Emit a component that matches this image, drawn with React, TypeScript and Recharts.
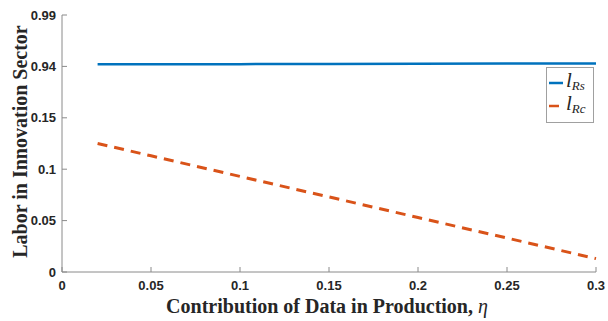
import { LineChart, Line, XAxis, YAxis } from "recharts";

// eta values and the two labour series
const ETA = [0.02, 0.05, 0.1, 0.15, 0.2, 0.25, 0.3];
const L_RS = [0.942, 0.942, 0.9422, 0.9424, 0.9425, 0.9427, 0.9428];
const L_RC = [0.125, 0.113, 0.093, 0.073, 0.053, 0.033, 0.013];

const X_TICKS = [0, 0.05, 0.1, 0.15, 0.2, 0.25, 0.3];
const X_TICK_LABELS = ["0", "0.05", "0.1", "0.15", "0.2", "0.25", "0.3"];
// broken y axis: labels are evenly spaced
const Y_TICKS = [0, 0.05, 0.1, 0.15, 0.94, 0.99];
const Y_TICK_LABELS = ["0", "0.05", "0.1", "0.15", "0.94", "0.99"];

const SERIES = [
  { key: "rs", sub: "Rs", color: "#0072BD", dash: undefined as string | undefined, width: 2.5 },
  { key: "rc", sub: "Rc", color: "#D95319", dash: "10 7", width: 3 },
];

const AXIS = "#8a8a8a";
const TICK_FONT = "'Liberation Sans', Arial, sans-serif";
const SERIF = "'Liberation Serif', 'Times New Roman', serif";

// map a value onto the evenly spaced tick positions
function toPos(v: number) {
  for (let i = 0; i < Y_TICKS.length - 1; i++) {
    if (v <= Y_TICKS[i + 1] || i === Y_TICKS.length - 2) {
      return i + (v - Y_TICKS[i]) / (Y_TICKS[i + 1] - Y_TICKS[i]);
    }
  }
  return 0;
}

const POS = Y_TICKS.map((_, i) => i);

const data = ETA.map((x, i) => ({ eta: x, rs: toPos(L_RS[i]), rc: toPos(L_RC[i]) }));

function LeftTick(props: any) {
  const { x, y, payload } = props;
  return (
    <g>
      <line x1={x + 6} x2={x + 11} y1={y} y2={y} stroke={AXIS} />
      <text x={x} y={y} dy="0.36em" textAnchor="end" fontSize={13} fontWeight="bold" fontFamily={TICK_FONT} fill="#262626">
        {Y_TICK_LABELS[payload.value]}
      </text>
    </g>
  );
}

function BottomTick(props: any) {
  const { x, y, payload } = props;
  const idx = X_TICKS.indexOf(payload.value);
  return (
    <g>
      <line x1={x} x2={x} y1={y - 9} y2={y - 14} stroke={AXIS} />
      <text x={x} y={y} dy="0.71em" textAnchor="middle" fontSize={13} fontWeight="bold" fontFamily={TICK_FONT} fill="#262626">
        {X_TICK_LABELS[idx]}
      </text>
    </g>
  );
}

function TopTick(props: any) {
  const { x, y } = props;
  return <line x1={x} x2={x} y1={y} y2={y + 5} stroke={AXIS} />;
}

function RightTick(props: any) {
  const { x, y } = props;
  return <line x1={x - 5} x2={x} y1={y} y2={y} stroke={AXIS} />;
}

function XLabel(props: any) {
  const { viewBox } = props;
  const cx = viewBox.x + viewBox.width / 2 - 2;
  return (
    <text x={cx} y={viewBox.y + 41} textAnchor="middle" fontSize={20} fontWeight="bold" fontFamily={SERIF} fill="#262626">
      Contribution of Data in Production, <tspan fontStyle="italic" fontWeight="normal">η</tspan>
    </text>
  );
}

function YLabel(props: any) {
  const { viewBox } = props;
  const cy = viewBox.y + viewBox.height / 2 - 2;
  return (
    <text x={27} y={cy} transform={`rotate(-90 27 ${cy})`} textAnchor="middle" fontSize={20} fontWeight="bold" fontFamily={SERIF} fill="#262626">
      Labor in Innovation Sector
    </text>
  );
}

export default function App() {
  return (
    <div style={{ position: "relative", width: 608, height: 321, background: "#fff" }}>
      <style>{"body{margin:0}"}</style>
      <LineChart width={608} height={321} data={data} margin={{ top: 15, right: 12, bottom: 0, left: 0 }}>
        <XAxis
          xAxisId="x"
          dataKey="eta"
          type="number"
          domain={[0, 0.3]}
          ticks={X_TICKS}
          height={49}
          tickSize={0}
          tickMargin={9}
          tickLine={false}
          axisLine={{ stroke: AXIS }}
          tick={<BottomTick />}
          label={<XLabel />}
        />
        <XAxis
          xAxisId="top"
          orientation="top"
          type="number"
          domain={[0, 0.3]}
          ticks={X_TICKS}
          height={0}
          tickSize={0}
          tickMargin={0}
          tickLine={false}
          axisLine={{ stroke: AXIS }}
          tick={<TopTick />}
        />
        <YAxis
          yAxisId="y"
          type="number"
          domain={[0, Y_TICKS.length - 1]}
          ticks={POS}
          width={62}
          tickSize={0}
          tickMargin={6}
          tickLine={false}
          axisLine={{ stroke: AXIS }}
          tick={<LeftTick />}
          label={<YLabel />}
        />
        <YAxis
          yAxisId="right"
          orientation="right"
          type="number"
          domain={[0, Y_TICKS.length - 1]}
          ticks={POS}
          width={0}
          tickSize={0}
          tickMargin={0}
          tickLine={false}
          axisLine={{ stroke: AXIS }}
          tick={<RightTick />}
        />
        {SERIES.map((s) => (
          <Line
            key={s.key}
            xAxisId="x"
            yAxisId="y"
            dataKey={s.key}
            type="linear"
            stroke={s.color}
            strokeWidth={s.width}
            strokeDasharray={s.dash}
            dot={false}
            isAnimationActive={false}
          />
        ))}
      </LineChart>
      <div
        style={{
          position: "absolute",
          left: 546,
          top: 67,
          width: 48,
          height: 56,
          border: "1px solid #a0a0a0",
          background: "#fff",
          boxSizing: "border-box",
          fontFamily: SERIF,
          fontStyle: "italic",
          color: "#262626",
        }}
      >
        {SERIES.map((s, i) => (
          <div key={s.key} style={{ position: "absolute", left: 1, top: 4 + i * 23, display: "flex", alignItems: "center", height: 22 }}>
            <svg width={15} height={6}>
              <line x1={1} x2={s.dash ? 11 : 15} y1={3} y2={3} stroke={s.color} strokeWidth={2.5} />
            </svg>
            <span style={{ fontSize: 21, marginLeft: 3, lineHeight: "22px" }}>
              l<sub style={{ fontSize: 13, verticalAlign: "-3px" }}>{s.sub}</sub>
            </span>
          </div>
        ))}
      </div>
    </div>
  );
}
